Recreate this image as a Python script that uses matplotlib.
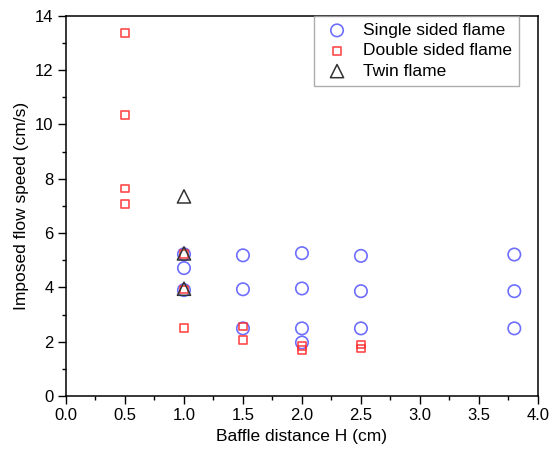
import matplotlib.pyplot as plt
from matplotlib.ticker import MultipleLocator

plt.rcParams['font.family'] = ['Liberation Sans', 'DejaVu Sans']

# single sided flame
single_x = [1.0, 1.0, 1.0, 1.5, 1.5, 1.5, 2.0, 2.0, 2.0, 2.0, 2.5, 2.5, 2.5, 3.8, 3.8, 3.8]
single_y = [5.22, 4.71, 3.90, 5.18, 3.93, 2.49, 5.26, 3.96, 2.49, 1.97, 5.16, 3.86, 2.49, 5.21, 3.86, 2.49]

# double sided flame
double_x = [0.5, 0.5, 0.5, 0.5, 1.0, 1.0, 1.0, 1.5, 1.5, 2.0, 2.0, 2.5, 2.5]
double_y = [13.37, 10.34, 7.64, 7.08, 5.22, 3.92, 2.50, 2.56, 2.07, 1.85, 1.70, 1.89, 1.75]

# twin flame
twin_x = [1.0, 1.0, 1.0]
twin_y = [7.35, 5.25, 3.95]

fig = plt.figure(figsize=(5.5, 4.58), dpi=100)
ax = fig.add_axes([0.12, 0.1354, 0.858, 0.830])

ax.scatter(single_x, single_y, s=80, marker='o', facecolors='none',
           edgecolors='#5555ff', linewidths=1.2, alpha=0.85, label='Single sided flame')
ax.scatter(double_x, double_y, s=30, marker='s', facecolors='none',
           edgecolors='#ff2a2a', linewidths=1.2, alpha=0.85, label='Double sided flame')
ax.scatter(twin_x, twin_y, s=90, marker='^', facecolors='none',
           edgecolors='#333333', linewidths=1.1, label='Twin flame')

ax.set_xlim(0, 4.0)
ax.set_ylim(0, 14)
ax.xaxis.set_major_locator(MultipleLocator(0.5))
ax.xaxis.set_minor_locator(MultipleLocator(0.25))
ax.yaxis.set_major_locator(MultipleLocator(2))
ax.yaxis.set_minor_locator(MultipleLocator(1))
ax.tick_params(which='major', direction='out', length=5.5, width=1, labelsize=12)
ax.tick_params(which='minor', direction='out', length=3, width=1)
for sp in ax.spines.values():
    sp.set_linewidth(1.1)

ax.set_xlabel('Baffle distance H (cm)', fontsize=12.5)
ax.set_ylabel('Imposed flow speed (cm/s)', fontsize=12.5)

leg = ax.legend(loc='upper right', fontsize=12.5, fancybox=False, edgecolor='#999999',
                handletextpad=0.6, borderpad=0.4, labelspacing=0.3, handlelength=1.8,
                borderaxespad=0, bbox_to_anchor=(0.96, 1.0))
leg.get_frame().set_linewidth(1.0)

fig.savefig('out.png', dpi=100)
